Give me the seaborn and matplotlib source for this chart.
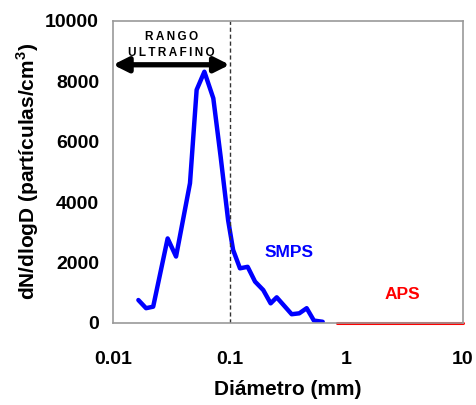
import matplotlib
matplotlib.use("Agg")
import matplotlib.pyplot as plt
import seaborn as sns
import pandas as pd

# SMPS data (diameter, dN/dlogD)
smps_d = [0.0165, 0.0192, 0.0221, 0.0294, 0.0347, 0.0457, 0.0521, 0.0607, 0.0724,
          0.0837, 0.097, 0.107, 0.1225, 0.1426, 0.165, 0.194, 0.2245, 0.253,
          0.298, 0.340, 0.395, 0.457, 0.527, 0.627]
smps_n = [760, 490, 540, 2800, 2200, 4630, 7720, 8320, 7440,
          5500, 3400, 2420, 1810, 1860, 1370, 1090, 650, 850,
          540, 290, 320, 490, 80, 40]
# APS data
aps_d = [0.83, 1.0, 2.0, 5.0, 10.0]
aps_n = [0, 0, 0, 0, 0]

x_ticks = [0.01, 0.1, 1, 10]
x_ticklabels = ["0.01", "0.1", "1", "10"]
y_ticks = [0, 2000, 4000, 6000, 8000, 10000]

sns.set_theme(style="white")
plt.rcParams['font.family'] = ['Liberation Sans', 'DejaVu Sans']
plt.rcParams['mathtext.fontset'] = 'custom'
plt.rcParams['mathtext.bf'] = 'Liberation Sans:bold'
plt.rcParams['mathtext.rm'] = 'Liberation Sans'

fig = plt.figure(figsize=(4.77, 4.05), dpi=100)
ax = fig.add_axes([0.2369, 0.2025, 0.7338, 0.7457])

smps = pd.DataFrame({"d": smps_d, "n": smps_n})
aps = pd.DataFrame({"d": aps_d, "n": aps_n})
sns.lineplot(data=smps, x="d", y="n", ax=ax, color="#0000ff", lw=3.2, sort=False)
sns.lineplot(data=aps, x="d", y="n", ax=ax, color="#ff0000", lw=2.2, sort=False, clip_on=False)

ax.set_xscale("log")
ax.set_xlim(0.01, 10)
ax.set_ylim(0, 10000)
ax.set_xticks(x_ticks)
ax.set_xticklabels(x_ticklabels)
ax.minorticks_off()
ax.set_yticks(y_ticks)
ax.tick_params(axis="y", labelsize=14, length=5, width=1, color="#888888", direction="out",
               pad=5, labelcolor="black")
ax.tick_params(axis="x", labelsize=14, length=4, width=1, color="#888888", direction="inout",
               pad=18, labelcolor="black")
for lab in ax.get_xticklabels() + ax.get_yticklabels():
    lab.set_fontweight("bold")
for s in ax.spines.values():
    s.set_color("#999999")
    s.set_linewidth(1.2)

ax.set_xlabel("Diámetro (mm)", fontsize=15, fontweight="bold", labelpad=9, color="black")
ax.set_ylabel("dN/dlogD (partículas/cm$^{\\mathbf{3}}$)", fontsize=15, fontweight="bold",
              labelpad=3, color="black")

ax.axvline(0.1, color="#333333", lw=1, ls=(0, (3, 2)))

ax.annotate("", xy=(0.01, 8550), xytext=(0.1, 8550),
            arrowprops=dict(arrowstyle="<|-|>", color="black", lw=3.8, mutation_scale=22,
                            shrinkA=0, shrinkB=0))
sp = "\u2009"
ax.text(0.0316, 9200, sp.join("RANGO") + "\n" + sp.join("ULTRAFINO"), ha="center", va="center",
        fontsize=8.5, fontweight="bold", linespacing=1.5, color="black")

ax.text(0.322, 2320, "SMPS", color="#0000ff", fontsize=12.5, fontweight="bold", ha="center", va="center")
ax.text(3.0, 930, "APS", color="#ff0000", fontsize=12.5, fontweight="bold", ha="center", va="center")

fig.savefig("out.png", dpi=100)
